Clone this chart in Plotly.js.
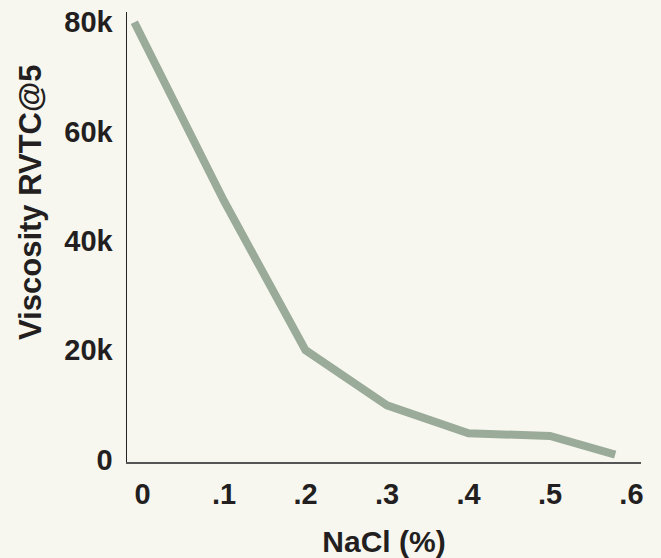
<!DOCTYPE html>
<html>
<head>
<meta charset="utf-8">
<script src="https://cdn.plot.ly/plotly-3.0.1.min.js"></script>
<style>html,body{margin:0;padding:0;background:#f7f7f0;}</style>
</head>
<body>
<div id="chart" style="width:661px;height:558px;"></div>
<script>
// Data
const nacl = [-0.01, 0.1, 0.2, 0.3, 0.4, 0.5, 0.58];
const viscosity = [80000, 47300, 20000, 9900, 4800, 4300, 900];
const xTickVals = [0, 0.1, 0.2, 0.3, 0.4, 0.5, 0.6];
const xTickText = ['0', '.1', '.2', '.3', '.4', '.5', '.6'];
const yTickVals = [0, 20000, 40000, 60000, 80000];
const yTickText = ['0', '20k', '40k', '60k', '80k'];

const fontFam = 'Liberation Sans, Arial, sans-serif';
const textColor = '#231f20';

const trace = {
  x: nacl,
  y: viscosity,
  type: 'scatter',
  mode: 'lines',
  line: {color: '#9aab99', width: 8},
  hoverinfo: 'x+y'
};

const layout = {
  width: 661,
  height: 558,
  paper_bgcolor: '#f7f7f0',
  plot_bgcolor: '#f7f7f0',
  margin: {l: 127, r: 20, t: 12, b: 96},
  showlegend: false,
  font: {family: fontFam, color: textColor},
  xaxis: {
    range: [-0.019, 0.6117],
    tickvals: xTickVals,
    ticktext: xTickText,
    showgrid: false,
    zeroline: false,
    showline: true,
    linecolor: '#555',
    linewidth: 2,
    ticks: '',
    ticklabelstandoff: 5,
    tickfont: {family: fontFam, size: 29, color: textColor, weight: 'bold'},
    title: {text: 'NaCl (%)', font: {family: fontFam, size: 30, color: textColor, weight: 'bold'}, standoff: 22}
  },
  yaxis: {
    range: [-460, 81870],
    tickvals: yTickVals,
    ticktext: yTickText,
    showgrid: false,
    zeroline: false,
    showline: true,
    linecolor: '#222',
    linewidth: 1.5,
    ticks: '',
    ticklabelstandoff: 7,
    tickfont: {family: fontFam, size: 29, color: textColor, weight: 'bold'}
  },
  annotations: [{
    text: 'Viscosity RVTC@5',
    textangle: -90,
    xref: 'paper', yref: 'paper',
    x: (31 - 127) / (661 - 127 - 20),
    y: (462 - 203) / (462 - 12),
    xanchor: 'center', yanchor: 'middle',
    showarrow: false,
    font: {family: fontFam, size: 31, color: textColor, weight: 'bold'}
  }]
};

Plotly.newPlot('chart', [trace], layout, {displayModeBar: false, staticPlot: true});
</script>
</body>
</html>
